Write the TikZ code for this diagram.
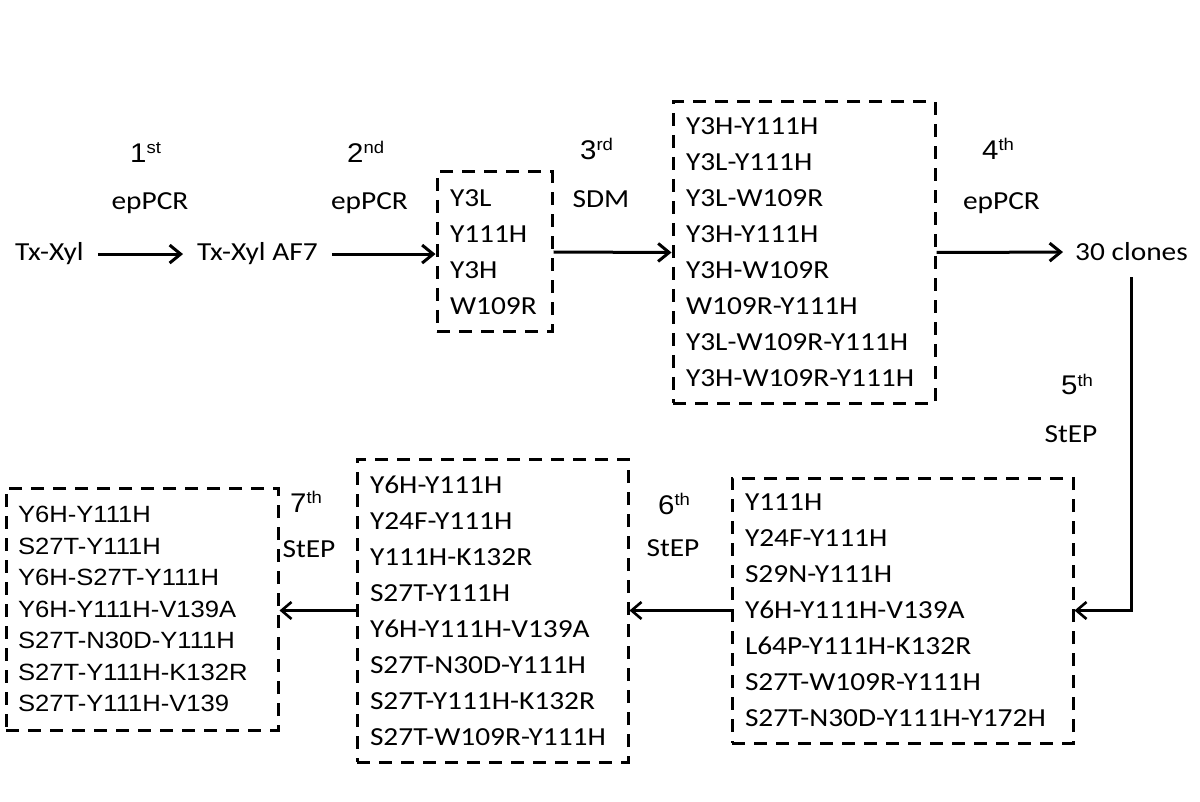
\documentclass[tikz,border=0pt]{standalone}
\usepackage{fontspec}
\setmainfont{Carlito}[FakeStretch=1.13]
\newfontfamily\arialf{Liberation Sans}[FakeStretch=1.09]
\usetikzlibrary{arrows.meta}
\exhyphenpenalty=10000
\hyphenpenalty=10000
\newcommand\ordsup[1]{\raisebox{9pt}{\fontsize{17}{17}\selectfont #1}}
\begin{document}
\begin{tikzpicture}[x=1pt,y=-1pt,
  ord/.style={font=\arialf\fontsize{27}{30}\selectfont, inner sep=0pt, anchor=base west},
  meth/.style={font=\fontsize{26}{36}\selectfont, inner sep=0pt, anchor=base},
  term/.style={font=\fontsize{26}{36}\selectfont, inner xsep=14pt, inner ysep=0pt, anchor=base west},
  listbox/.style={draw, line width=3pt, dash pattern=on 13pt off 9pt, align=left, inner xsep=13pt, inner ysep=0pt, font=\fontsize{26}{36}\selectfont},
  arr/.style={line width=3pt, -{Straight Barb[length=11pt,width=18pt]}},
  arrb/.style={line width=2.6pt, -{Straight Barb[length=10pt,width=17pt]}},
]
\fill[white] (0,0) rectangle (1200,802);
\useasboundingbox (0,0) rectangle (1200,802);

% terms
\node[term] (tx) at (1,261) {Tx-Xyl};
\node[term] (af7) at (183,261) {Tx-Xyl AF7};
\node[term, inner xsep=12pt, inner ysep=16pt] (cl) at (1063,261) {30 clones};

% boxes
\node[listbox, text width=89pt, minimum height=160pt] (b1) at (494.5,252)
  {Y3L\\Y111H\\Y3H\\W109R};
\node[listbox, text width=236pt, minimum height=301pt] (b2) at (804,252.5)
  {Y3H-Y111H\\Y3L-Y111H\\Y3L-W109R\\Y3H-Y111H\\Y3H-W109R\\W109R-Y111H\\Y3L-W109R-Y111H\\Y3H-W109R-Y111H};
\node[listbox, text width=315pt, minimum height=265pt] (b5) at (902.5,610.5)
  {Y111H\\Y24F-Y111H\\S29N-Y111H\\Y6H-Y111H-V139A\\L64P-Y111H-K132R\\S27T-W109R-Y111H\\S27T-N30D-Y111H-Y172H};
\node[listbox, text width=245pt, minimum height=303pt] (b6) at (492.5,610.5)
  {Y6H-Y111H\\Y24F-Y111H\\Y111H-K132R\\S27T-Y111H\\Y6H-Y111H-V139A\\S27T-N30D-Y111H\\S27T-Y111H-K132R\\S27T-W109R-Y111H};
\node[listbox, inner xsep=12pt, text width=248pt, minimum height=242pt, font=\arialf\fontsize{23.5}{31.5}\selectfont] (b7) at (142,609)
  {Y6H-Y111H\\S27T-Y111H\\Y6H-S27T-Y111H\\Y6H-Y111H-V139A\\S27T-N30D-Y111H\\S27T-Y111H-K132R\\S27T-Y111H-V139};

% step labels
\node[ord] (o1) at (130,163) {1\ordsup{st}};
\node[meth] (m1) at (150,210) {epPCR};
\node[ord] (o2) at (347,163) {2\ordsup{nd}};
\node[meth] (m2) at (369.5,210) {epPCR};
\node[ord] (o3) at (580,160) {3\ordsup{rd}};
\node[meth] (m3) at (601,208) {SDM};
\node[ord] (o4) at (982,160) {4\ordsup{th}};
\node[meth] (m4) at (1001.5,210) {epPCR};
\node[ord] (o5) at (1061,395) {5\ordsup{th}};
\node[meth] (m5) at (1071,442) {StEP};
\node[ord] (o6) at (658,514) {6\ordsup{th}};
\node[meth] (m6) at (673,556) {StEP};
\node[ord] (o7) at (290,512) {7\ordsup{th}};
\node[meth] (m7) at (309,557) {StEP};

% connectors
\draw[arr] (tx.east) -- (af7.west);
\draw[arr] (af7.east) -- (af7.east -| b1.west);
\draw[arr] (b1.east) -- (b2.west);
\draw[arr] (b2.east) -- (cl.west);
\draw[arrb] (cl.south) |- (b5.east);
\draw[arrb] (b5.west) -- (b5.west -| b6.east);
\draw[arrb] (b6.west) -- (b6.west -| b7.east);
\end{tikzpicture}
\end{document}
